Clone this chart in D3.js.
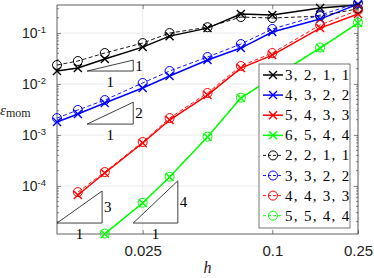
<!DOCTYPE html>
<html>
<head>
<meta charset="utf-8">
<script src="https://cdn.jsdelivr.net/npm/d3@7"></script>
<style>
  body { margin: 0; background: #fff; }
  svg { display: block; }
</style>
</head>
<body>
<script>
const width = 374;
const height = 278;
const margin = { left: 57, right: 16, top: 5, bottom: 44 };

// mesh sizes
const hValues = [0.01, 0.0125, 0.01667, 0.025, 0.03333, 0.05, 0.07143, 0.1, 0.1667, 0.25];

// errors, cross series (solid)
const err3211 = [0.018, 0.0206, 0.031, 0.053, 0.087, 0.125, 0.236, 0.225, 0.31, 0.355];
const err4322 = [0.0018, 0.00258, 0.00424, 0.00835, 0.01436, 0.0296, 0.0508, 0.105, 0.188, 0.37];
const err5433 = [null, 6.67e-5, 1.8e-4, 6.97e-4, 1.97e-3, 6.08e-3, 0.0206, 0.037, 0.125, 0.236];
const err6544 = [null, null, 1.15e-5, 4.64e-5, 1.5e-4, 9.14e-4, 5.3e-3, 0.0132, 0.0508, 0.157];
// errors, circle series (dashed)
const err2211 = [0.0236, 0.0283, 0.0406, 0.0637, 0.1, 0.13, 0.206, 0.197, 0.215, 0.3];
const err3322 = [0.00215, 0.0031, 0.00485, 0.0105, 0.018, 0.0339, 0.0608, 0.12, 0.225, 0.39];
const err4433 = [null, 7.6e-5, 1.88e-4, 7.3e-4, 2.15e-3, 6.67e-3, 0.0226, 0.0406, 0.144, 0.28];
const err5544 = [null, null, 1.17e-5, 4.7e-5, 1.52e-4, 9.3e-4, 5.4e-3, 0.0135, 0.052, 0.16];

const seriesLabels = ["3, 2, 1, 1", "4, 3, 2, 2", "5, 4, 3, 3", "6, 5, 4, 4",
                      "2, 2, 1, 1", "3, 3, 2, 2", "4, 4, 3, 3", "5, 5, 4, 4"];
const seriesValues = [err3211, err4322, err5433, err6544, err2211, err3322, err4433, err5544];
const seriesColors = ["#000000", "#0000ff", "#ff0000", "#00ff00",
                      "#000000", "#0000ff", "#ff0000", "#00ff00"];
const seriesMarkers = ["cross", "cross", "cross", "cross", "circle", "circle", "circle", "circle"];

const xTickValues = [0.025, 0.1, 0.25];
const xTickLabels = ["0.025", "0.1", "0.25"];
const yTickValues = [1e-4, 1e-3, 1e-2, 1e-1];
const yTickExponents = ["-4", "-3", "-2", "-1"];

// slope triangles: bottom-left h, right h, bottom error, slope
const triH0 = [0.0138, 0.0138, 0.01, 0.0226];
const triH1 = [0.0226, 0.0226, 0.0162, 0.0364];
const triE0 = [0.018, 0.00164, 1.88e-5, 1.88e-5];
const triSlope = [1, 2, 3, 4];

const svg = d3.select("body").append("svg")
  .attr("width", width)
  .attr("height", height);

const x = d3.scaleLog()
  .domain([0.01, 0.25])
  .range([margin.left, width - margin.right]);

const y = d3.scaleLog()
  .domain([1.146e-5, 0.355])
  .range([height - margin.bottom, margin.top]);

const x0 = margin.left, x1 = width - margin.right;
const y0 = height - margin.bottom, y1 = margin.top;

// grid
svg.append("g")
  .selectAll("line.gy")
  .data(yTickValues)
  .enter()
  .append("line")
  .attr("x1", x0).attr("x2", x1)
  .attr("y1", (d) => y(d)).attr("y2", (d) => y(d))
  .attr("stroke", "#e6e6e6")
  .attr("stroke-width", 0.8);

svg.append("g")
  .selectAll("line.gx")
  .data(xTickValues)
  .enter()
  .append("line")
  .attr("x1", (d) => x(d)).attr("x2", (d) => x(d))
  .attr("y1", y0).attr("y2", y1)
  .attr("stroke", "#e6e6e6")
  .attr("stroke-width", 0.8);

// minor y ticks (left and right)
const minorY = [];
for (let e = -5; e <= -1; e++) {
  for (let m = 2; m <= 9; m++) {
    const v = m * Math.pow(10, e);
    if (v > y.domain()[0] && v < y.domain()[1]) minorY.push(v);
  }
}

const axisColor = "#3a3a3a";

const gY = svg.append("g")
  .attr("transform", "translate(" + x0 + ",0)")
  .call(d3.axisLeft(y).tickValues(yTickValues).tickSizeInner(-4).tickSizeOuter(0).tickPadding(11));

const gYr = svg.append("g")
  .attr("transform", "translate(" + x1 + ",0)")
  .call(d3.axisRight(y).tickValues(yTickValues).tickSizeInner(-4).tickSizeOuter(0).tickFormat(""));

[gY, gYr].forEach((g, i) => {
  g.select(".domain").remove();
  g.selectAll(".tick line").attr("stroke", axisColor).attr("stroke-width", 0.6);
  g.selectAll("line.minor")
    .data(minorY)
    .enter()
    .append("line")
    .attr("class", "minor")
    .attr("x1", 0).attr("x2", i === 0 ? 2 : -2)
    .attr("y1", (d) => y(d)).attr("y2", (d) => y(d))
    .attr("stroke", axisColor)
    .attr("stroke-width", 0.6);
});

gY.selectAll(".tick text")
  .attr("font-family", "'Liberation Sans', Arial, sans-serif")
  .attr("font-size", 14)
  .attr("fill", "#222")
  .each(function (d, i) {
    const t = d3.select(this).text(null);
    t.append("tspan").text("10");
    t.append("tspan").attr("dy", "-0.5em").attr("font-size", 9.5).text(yTickExponents[i]);
  });

const gX = svg.append("g")
  .attr("transform", "translate(0," + y0 + ")")
  .call(d3.axisBottom(x).tickValues(xTickValues).tickSizeInner(-4).tickSizeOuter(0)
    .tickPadding(11).tickFormat((d, i) => xTickLabels[i]));

const gXt = svg.append("g")
  .attr("transform", "translate(0," + y1 + ")")
  .call(d3.axisTop(x).tickValues(xTickValues).tickSizeInner(-4).tickSizeOuter(0).tickFormat(""));

[gX, gXt].forEach((g) => {
  g.select(".domain").remove();
  g.selectAll(".tick line").attr("stroke", axisColor).attr("stroke-width", 0.6);
});

gX.selectAll(".tick text")
  .attr("font-family", "'Liberation Sans', Arial, sans-serif")
  .attr("font-size", 15)
  .attr("fill", "#222");

// frame
svg.append("rect")
  .attr("x", x0).attr("y", y1)
  .attr("width", x1 - x0).attr("height", y0 - y1)
  .attr("fill", "none")
  .attr("stroke", axisColor)
  .attr("stroke-width", 0.8);

// slope triangles
const triangles = triSlope.map((s, i) => ({
  h0: triH0[i], h1: triH1[i], e0: triE0[i],
  e1: triE0[i] * Math.pow(triH1[i] / triH0[i], s), slope: s
}));

const gTri = svg.append("g");
triangles.forEach((t) => {
  gTri.append("path")
    .attr("d", "M" + x(t.h0) + "," + y(t.e0) + "L" + x(t.h1) + "," + y(t.e0) +
      "L" + x(t.h1) + "," + y(t.e1) + "Z")
    .attr("fill", "none")
    .attr("stroke", "#111")
    .attr("stroke-width", 0.8);
  gTri.append("text")
    .attr("x", x(t.h1) + 2)
    .attr("y", (y(t.e0) + y(t.e1)) / 2 + 5)
    .attr("font-family", "'Liberation Serif', 'Times New Roman', serif")
    .attr("font-size", 15)
    .text(t.slope);
  gTri.append("text")
    .attr("x", (x(t.h0) + x(t.h1)) / 2)
    .attr("y", y(t.e0) + 16)
    .attr("text-anchor", "middle")
    .attr("font-family", "'Liberation Serif', 'Times New Roman', serif")
    .attr("font-size", 15)
    .text("1");
});

// series
const line = d3.line()
  .defined((d) => d.e != null)
  .x((d) => x(d.h))
  .y((d) => y(d.e));

const crossPath = "M-4,-4L4,4M-4,4L4,-4";

function drawMarker(g, type, color) {
  if (type === "cross") {
    g.append("path")
      .attr("d", crossPath)
      .attr("fill", "none")
      .attr("stroke", color)
      .attr("stroke-width", 1.4);
  } else {
    g.append("circle")
      .attr("r", 4.5)
      .attr("fill", "none")
      .attr("stroke", color)
      .attr("stroke-width", 1);
  }
}

seriesValues.forEach((vals, i) => {
  const pts = hValues.map((h, j) => ({ h: h, e: vals[j] }));
  const dashed = seriesMarkers[i] === "circle";
  const g = svg.append("g");
  g.append("path")
    .attr("d", line(pts))
    .attr("fill", "none")
    .attr("stroke", seriesColors[i])
    .attr("stroke-width", dashed ? 0.9 : 1.5)
    .attr("stroke-dasharray", dashed ? "4,2.5" : null);
  pts.filter((d) => d.e != null).forEach((d) => {
    const m = g.append("g").attr("transform", "translate(" + x(d.h) + "," + y(d.e) + ")");
    drawMarker(m, seriesMarkers[i], seriesColors[i]);
  });
});

// legend
const legend = svg.append("g").attr("transform", "translate(259,64)");
legend.append("rect")
  .attr("width", 91)
  .attr("height", 164)
  .attr("fill", "#fff")
  .attr("stroke", "#555")
  .attr("stroke-width", 0.8);

seriesLabels.forEach((label, i) => {
  const row = legend.append("g").attr("transform", "translate(0," + (11 + i * 20.1) + ")");
  const dashed = seriesMarkers[i] === "circle";
  row.append("line")
    .attr("x1", 4).attr("x2", 24)
    .attr("stroke", seriesColors[i])
    .attr("stroke-width", dashed ? 0.9 : 1.5)
    .attr("stroke-dasharray", dashed ? "3,2" : null);
  const m = row.append("g").attr("transform", "translate(14,0)");
  drawMarker(m, seriesMarkers[i], seriesColors[i]);
  row.append("text")
    .attr("x", 26)
    .attr("y", 5)
    .attr("font-family", "'Liberation Serif', 'Times New Roman', serif")
    .attr("font-size", 15)
    .attr("letter-spacing", 1.3)
    .text(label);
});

// axis labels
const yLabel = svg.append("text")
  .attr("x", 0)
  .attr("y", 115)
  .attr("font-family", "'Liberation Serif', 'Times New Roman', serif")
  .attr("fill", "#222");
yLabel.append("tspan").attr("font-style", "italic").attr("font-size", 15).text("ε");
yLabel.append("tspan").attr("font-size", 12).attr("dy", 2).text("mom");

svg.append("text")
  .attr("x", (x0 + x1) / 2)
  .attr("y", 273)
  .attr("text-anchor", "middle")
  .attr("font-family", "'Liberation Serif', 'Times New Roman', serif")
  .attr("font-style", "italic")
  .attr("font-size", 16)
  .attr("fill", "#222")
  .text("h");
</script>
</body>
</html>
